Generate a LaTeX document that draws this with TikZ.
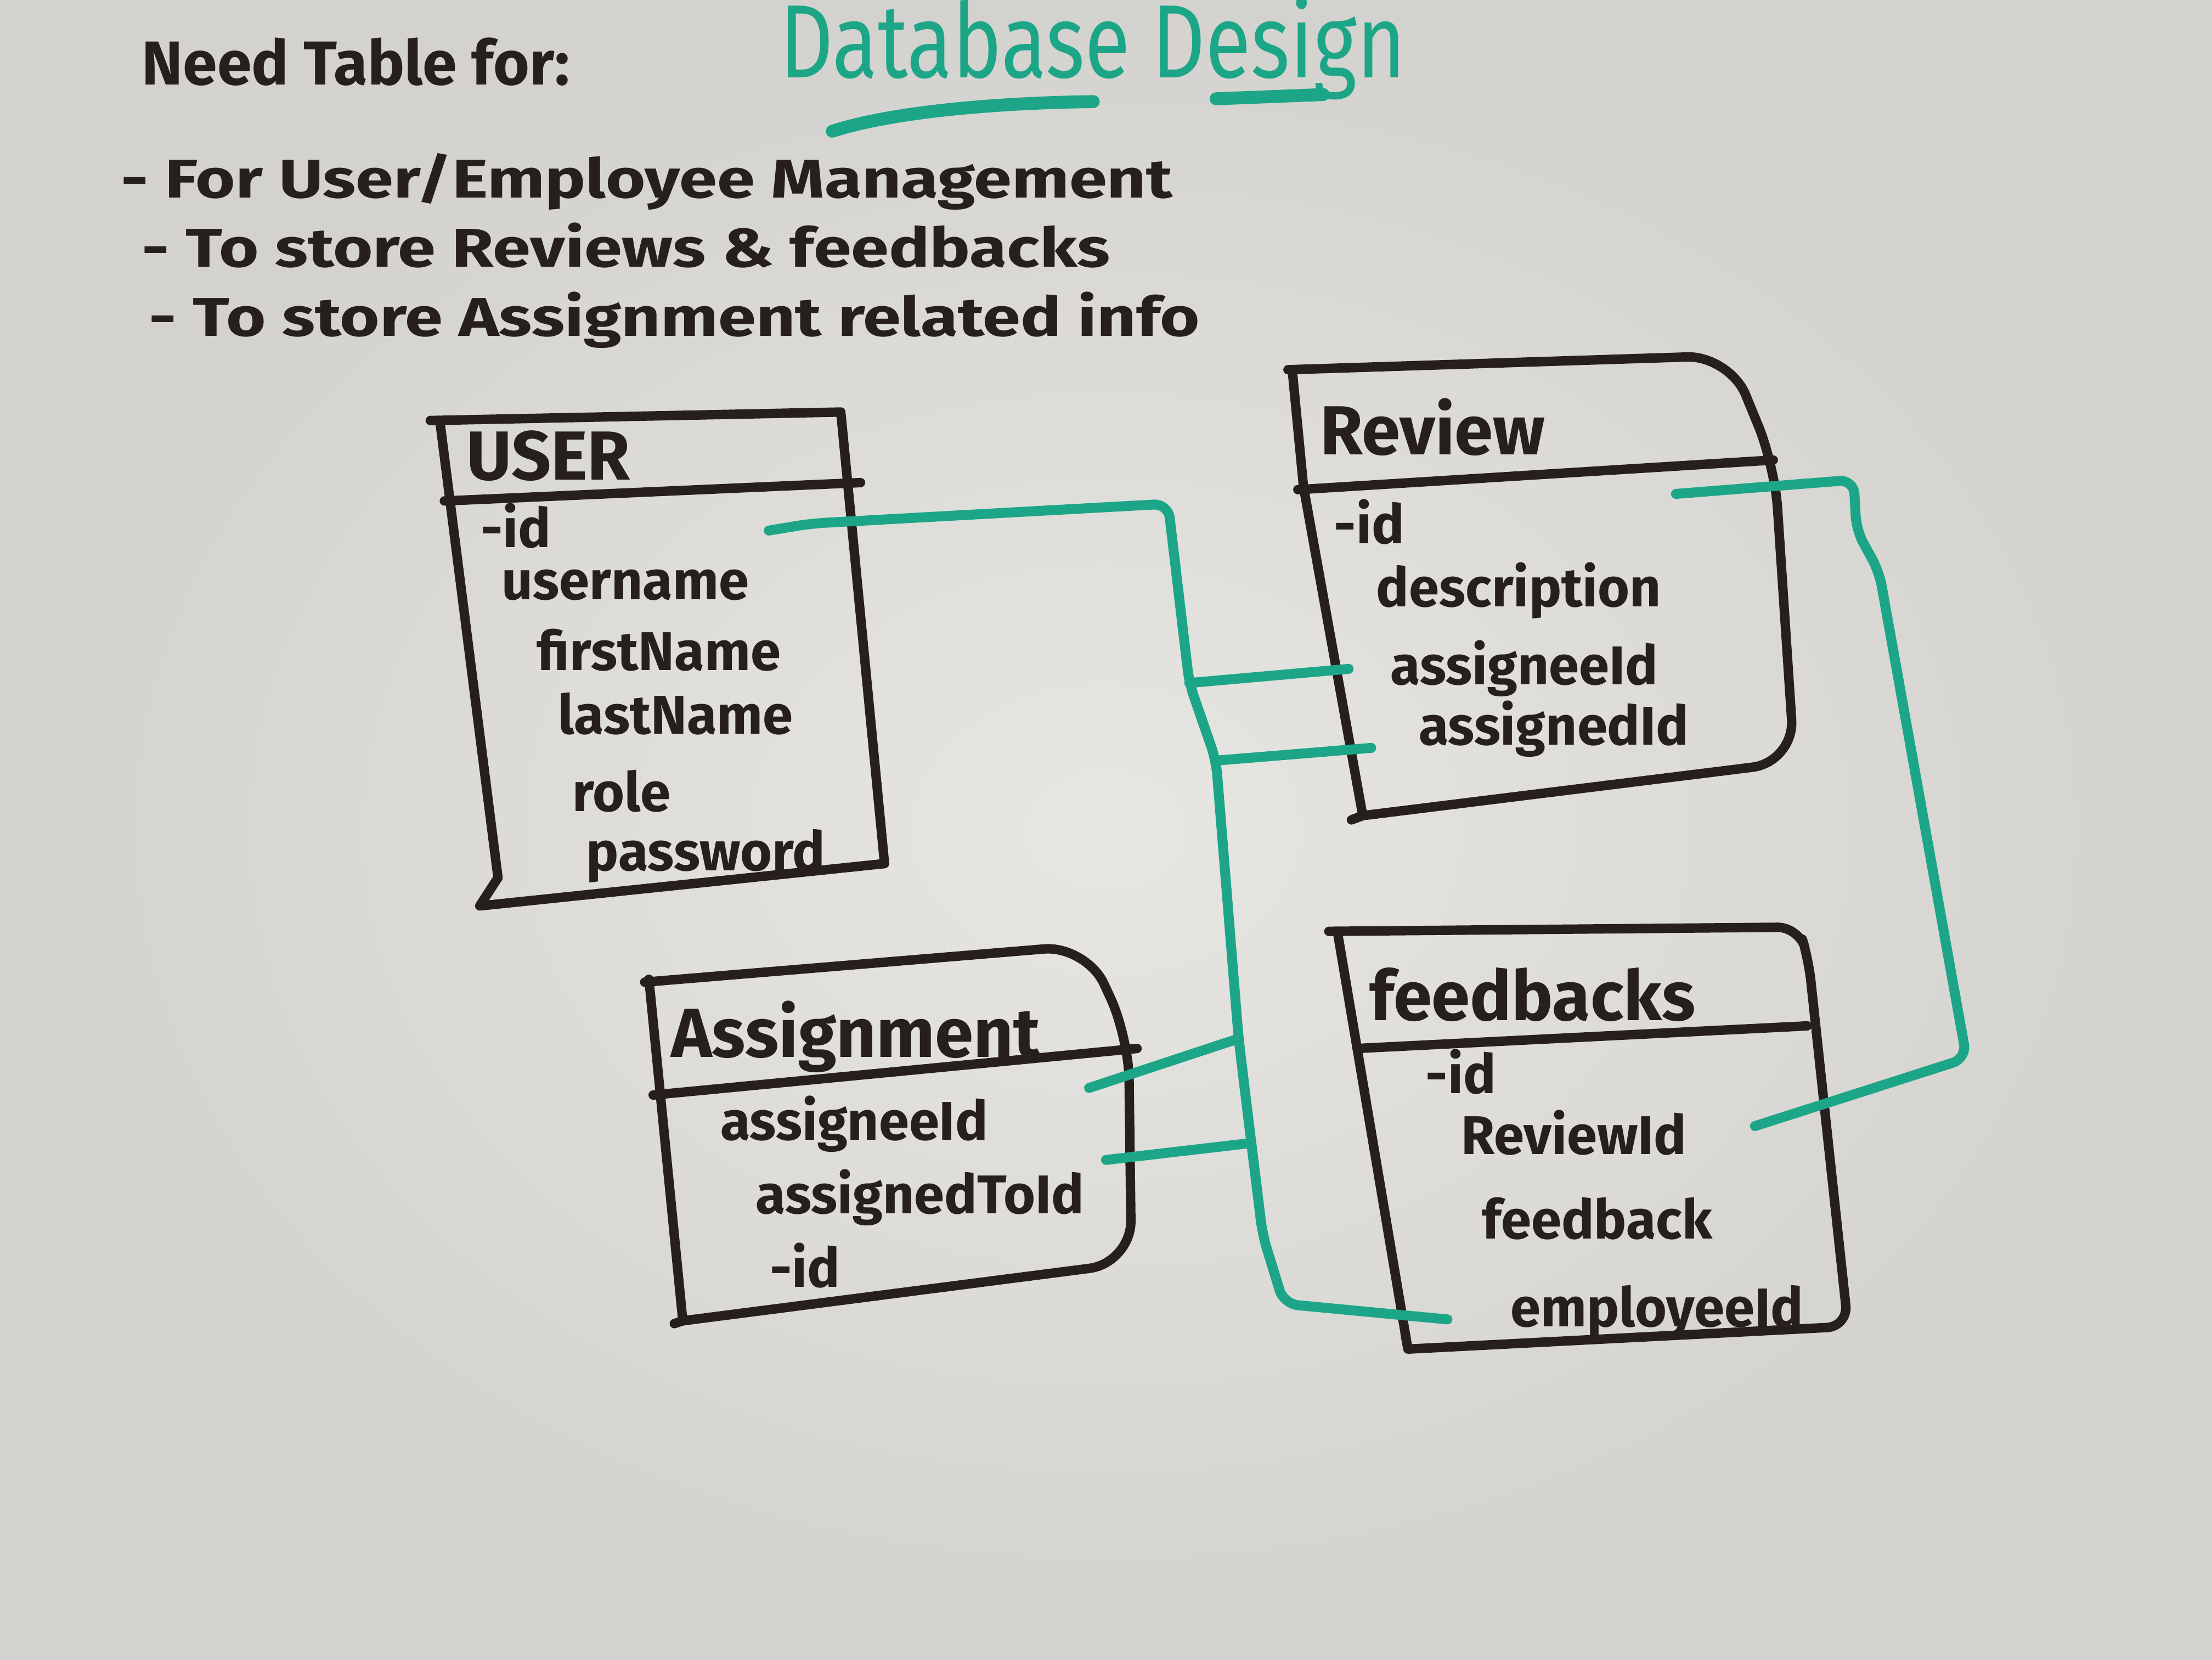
\documentclass[tikz,border=0pt]{standalone}
\usepackage{fontspec}
\setmainfont{Fira Sans}
\newfontfamily\widehand{Fira Sans}[FakeStretch=1.25]
\newfontfamily\narrowhand{Fira Sans}[FakeStretch=0.8]
\definecolor{board}{RGB}{231,230,226}
\definecolor{boardedge}{RGB}{211,210,206}
\definecolor{marker}{RGB}{38,31,28}
\definecolor{tealmarker}{RGB}{28,166,135}
\tikzset{
    ink/.style={draw=marker, line width=1.9pt, line cap=round, line join=round},
    link/.style={draw=tealmarker, line width=2pt, line cap=round, line join=round},
    note/.style={anchor=base west, inner sep=0pt, text=marker, font=\widehand\bfseries\fontsize{11}{13}\selectfont},
    tbltitle/.style={anchor=base west, inner sep=0pt, text=marker, font=\bfseries\fontsize{14}{16}\selectfont},
    field/.style={anchor=base west, inner sep=0pt, text=marker, font=\bfseries\fontsize{11}{13}\selectfont},
}

\begin{document}
\begin{tikzpicture}[x=0.1mm, y=-0.1mm]
    % Draw the board
    \shade[inner color=board, outer color=boardedge] (0,0) rectangle (1568,1176);
    \useasboundingbox (0,0) rectangle (1568,1176);

    % Draw the heading
    \node[note, font=\bfseries\fontsize{12.5}{14}\selectfont] (need) at (100,60) {Need Table for:};
    \node[note, text=tealmarker, font=\narrowhand\fontsize{21}{24}\selectfont] (design) at (552,55) {Database Design};
    \draw[link, line width=2.6pt] (590,93) .. controls (630,80) and (700,73) .. (775,72);
    \draw[link, line width=2.6pt] (862,70) -- (938,67);

    % Draw the list
    \node[note] (need1) at (85,140) {- For User/Employee Management};
    \node[note] (need2) at (100,189) {- To store Reviews \& feedbacks};
    \node[note] (need3) at (105,238) {- To store Assignment related info};

    % USER table
    \draw[ink] (305,298) -- (596,292) -- (627,612) -- (340,642) -- (353,622) -- (312,300);
    \draw[ink] (315,355) -- (610,342);
    \node[tbltitle] (user) at (330,340) {USER};
    \node[field] (u-id) at (340,388) {-id};
    \node[field] (u-username) at (355,425) {username};
    \node[field] (u-first) at (380,475) {firstName};
    \node[field] (u-last) at (395,520) {lastName};
    \node[field] (u-role) at (405,575) {role};
    \node[field] (u-pass) at (415,617) {password};

    % Review table
    \draw[ink, rounded corners=3mm] (913,262) -- (1226,252) -- (1258,330) -- (1272,540) -- (966,578);
    \draw[ink] (916,262) -- (924,345) -- (966,578) -- (958,581);
    \draw[ink] (920,347) -- (1257,326);
    \node[tbltitle] (review) at (935,322) {Review};
    \node[field] (r-id) at (945,385) {-id};
    \node[field] (r-desc) at (975,430) {description};
    \node[field] (r-assignee) at (985,485) {assigneeId};
    \node[field] (r-assigned) at (1005,528) {assignedId};

    % Assignment table
    \draw[ink, rounded corners=3mm] (457,696) -- (770,670) -- (800,735) -- (802,895) -- (484,936);
    \draw[ink] (460,694) -- (484,936) -- (478,938);
    \draw[ink] (463,776) -- (806,743);
    \node[tbltitle] (assignment) at (475,749) {Assignment};
    \node[field] (a-assignee) at (510,808) {assigneeId};
    \node[field] (a-assignedto) at (535,860) {assignedToId};
    \node[field] (a-id) at (545,912) {-id};

    % feedbacks table
    \draw[ink, rounded corners=1.5mm] (942,660) -- (1275,657) -- (1282,680) -- (1310,940) -- (999,956);
    \draw[ink] (948,660) -- (998,956) -- (996,945);
    \draw[ink] (962,743) -- (1281,727);
    \node[tbltitle] (feedbacks) at (970,723) {feedbacks};
    \node[field] (f-id) at (1010,775) {-id};
    \node[field] (f-review) at (1035,818) {ReviewId};
    \node[field] (f-feedback) at (1050,878) {feedback};
    \node[field] (f-employee) at (1070,940) {employeeId};

    % Links
    \coordinate (u-id-pin) at (545,376);
    \coordinate (r-assignee-pin) at (956,474);
    \coordinate (r-assigned-pin) at (972,530);
    \coordinate (a-assignee-pin) at (772,771);
    \coordinate (a-assignedto-pin) at (784,822);
    \coordinate (f-employee-pin) at (1026,935);
    \coordinate (r-id-pin) at (1188,350);
    \coordinate (f-review-pin) at (1244,798);
    \coordinate (j1) at (843,484);
    \coordinate (j2) at (862,539);
    \coordinate (j3) at (878,736);
    \coordinate (j4) at (887,810);
    % user id to everyone
    \draw[link, rounded corners=1mm] (u-id-pin) -- (575,371) -- (828,357) -- (j1) -- (j2) -- (j3) -- (j4)
        -- (895,875) -- (910,924) -- (f-employee-pin);
    \draw[link] (j1) -- (r-assignee-pin);
    \draw[link] (j2) -- (r-assigned-pin);
    \draw[link] (j3) -- (a-assignee-pin);
    \draw[link] (j4) -- (a-assignedto-pin);
    % review id to feedbacks
    \draw[link, rounded corners=1mm] (r-id-pin) -- (1314,340) -- (1316,376) -- (1332,405) -- (1394,750) -- (f-review-pin);
\end{tikzpicture}
\end{document}
